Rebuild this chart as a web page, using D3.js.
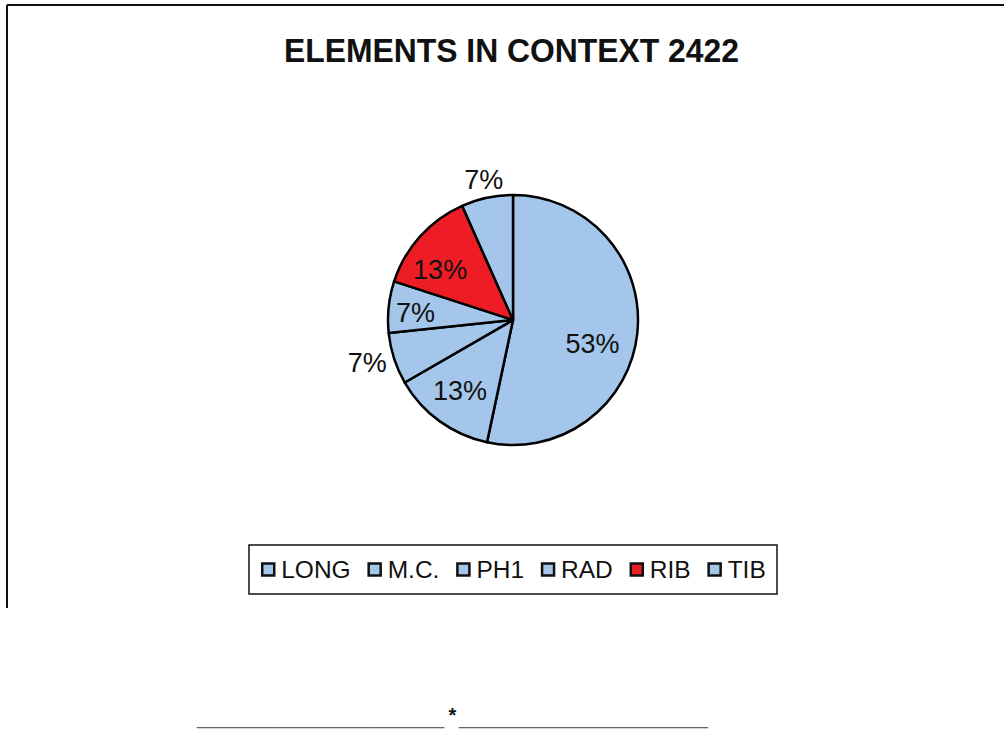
<!DOCTYPE html>
<html>
<head>
<meta charset="utf-8">
<script src="https://cdn.jsdelivr.net/npm/d3@7"></script>
<style>
  html, body { margin: 0; padding: 0; background: #fff; }
  svg { display: block; }
  text { font-family: "Liberation Sans", Arial, sans-serif; }
</style>
</head>
<body>
<svg id="chart" width="1004" height="729"></svg>
<script>
// ---- data ----
const title = "ELEMENTS IN CONTEXT 2422";
const categories = ["LONG", "M.C.", "PH1", "RAD", "RIB", "TIB"];
const counts = [8, 2, 1, 1, 2, 1];
const sliceColors = ["#a3c6ea", "#a3c6ea", "#a3c6ea", "#a3c6ea", "#ee1c25", "#a3c6ea"];
const outsideLabels = ["PH1", "TIB"];

// ---- layout ----
const W = 1004, H = 729;
const cx = 513, cy = 320, R = 125;
// label placement nudges (style, in px)
const labelNudge = { "LONG": [-10, 15], "M.C.": [0, -2], "PH1": [-3, -3], "RAD": [-8, 2], "RIB": [-6, 10], "TIB": [2, 7] };
const svg = d3.select("#chart");

// frame (top and left border lines)
svg.append("line").attr("x1", 7).attr("x2", W).attr("y1", 5).attr("y2", 5)
  .attr("stroke", "#111").attr("stroke-width", 2);
svg.append("line").attr("x1", 7).attr("x2", 7).attr("y1", 5).attr("y2", 608)
  .attr("stroke", "#111").attr("stroke-width", 2);

// title
svg.append("text").attr("x", 284).attr("y", 62)
  .attr("font-size", 33).attr("font-weight", "bold")
  .attr("fill", "#111")
  .attr("textLength", 455).attr("lengthAdjust", "spacingAndGlyphs")
  .text(title);

// pie
const data = categories.map((c, i) => ({ cat: c, value: counts[i], color: sliceColors[i] }));
const total = d3.sum(counts);
const pie = d3.pie().value(d => d.value).sort(null);
const arcs = pie(data);
const arc = d3.arc().innerRadius(0).outerRadius(R);
const inArc = d3.arc().innerRadius(R * 0.72).outerRadius(R * 0.72);
const outArc = d3.arc().innerRadius(R + 25).outerRadius(R + 25);

const g = svg.append("g").attr("transform", `translate(${cx},${cy})`);
g.selectAll("path.slice").data(arcs).enter().append("path")
  .attr("class", "slice")
  .attr("d", arc)
  .attr("fill", d => d.data.color)
  .attr("stroke", "#000")
  .attr("stroke-width", 2.5)
  .attr("stroke-linejoin", "round");

const fmt = d => Math.round(d.data.value / total * 100) + "%";
g.selectAll("text.lbl").data(arcs).enter().append("text")
  .attr("class", "lbl")
  .attr("transform", d => {
    const p = outsideLabels.includes(d.data.cat) ? outArc.centroid(d) : inArc.centroid(d);
    const n = labelNudge[d.data.cat] || [0, 0];
    return `translate(${p[0] + n[0]},${p[1] + n[1]})`;
  })
  .attr("text-anchor", "middle")
  .attr("dominant-baseline", "central")
  .attr("font-size", 27)
  .attr("fill", "#111")
  .text(fmt);

// legend
const lg = svg.append("g");
const boxX = 249, boxY = 545, boxW = 528, boxH = 49;
lg.append("rect").attr("x", boxX).attr("y", boxY).attr("width", boxW).attr("height", boxH)
  .attr("fill", "#fff").attr("stroke", "#111").attr("stroke-width", 1.5);

const items = lg.selectAll("g.item").data(data).enter().append("g").attr("class", "item");
items.append("rect")
  .attr("width", 12).attr("height", 12)
  .attr("fill", d => d.color).attr("stroke", "#111").attr("stroke-width", 2.5);
items.append("text")
  .attr("x", 19).attr("y", 6)
  .attr("dominant-baseline", "central")
  .attr("font-size", 24.5).attr("fill", "#111")
  .text(d => d.cat);

const gap = 18;
let widths = [];
items.each(function() { widths.push(this.querySelector("text").getComputedTextLength() + 19); });
const totalW = d3.sum(widths) + gap * (widths.length - 1);
let x = boxX + (boxW - totalW) / 2 + 1;
items.each(function(d, i) {
  d3.select(this).attr("transform", `translate(${x},${boxY + boxH / 2 - 6})`);
  x += widths[i] + gap;
});

// bottom decoration text
const bottom = svg.append("g");
bottom.append("text").attr("x", 197).attr("y", 724.5)
  .attr("font-size", 16).attr("fill", "#666")
  .attr("textLength", 247).attr("lengthAdjust", "spacingAndGlyphs")
  .text("____________________________");
bottom.append("text").attr("x", 459).attr("y", 724.5)
  .attr("font-size", 16).attr("fill", "#666")
  .attr("textLength", 249).attr("lengthAdjust", "spacingAndGlyphs")
  .text("____________________________");
bottom.append("text").attr("x", 452.5).attr("y", 722)
  .attr("text-anchor", "middle")
  .attr("font-size", 20).attr("font-weight", "bold").attr("fill", "#111")
  .text("*");
</script>
</body>
</html>
